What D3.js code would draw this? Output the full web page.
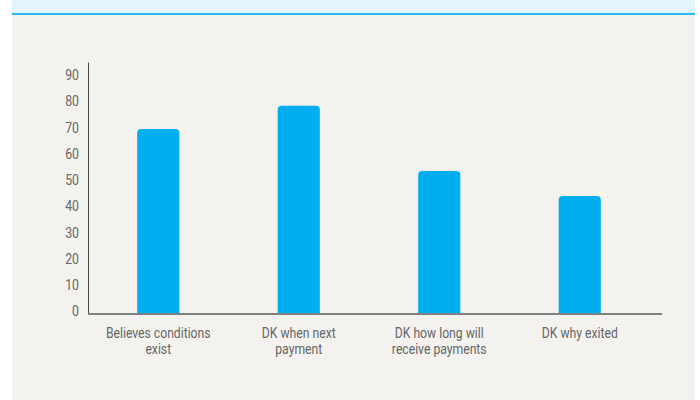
<!DOCTYPE html>
<html>
<head>
<meta charset="utf-8">
<script src="https://cdn.jsdelivr.net/npm/d3@7"></script>
<style>
  body { margin: 0; background: #ffffff; }
  svg { display: block; }
</style>
</head>
<body>
<div id="chart"></div>
<script>
// chart data
var categories = [
  ["Believes conditions", "exist"],
  ["DK when next", "payment"],
  ["DK how long will", "receive payments"],
  ["DK why exited"]
];
var values = [70.5, 79.3, 54.5, 45];
var yTicks = [0, 10, 20, 30, 40, 50, 60, 70, 80, 90];

var svgWidth = 700;
var svgHeight = 400;

var margin = { top: 62, right: 50, bottom: 86, left: 88 };
var width = svgWidth - margin.left - margin.right;
var height = svgHeight - margin.top - margin.bottom;

var svg = d3.select("#chart")
  .append("svg")
  .attr("width", svgWidth)
  .attr("height", svgHeight);

// panel background + header band
svg.append("rect")
  .attr("x", 12).attr("y", 14)
  .attr("width", 683).attr("height", 386)
  .attr("fill", "#f3f2ee");
svg.append("rect")
  .attr("x", 12).attr("y", 0)
  .attr("width", 683).attr("height", 13)
  .attr("fill", "#e3f5fc");
svg.append("rect")
  .attr("x", 12).attr("y", 13)
  .attr("width", 683).attr("height", 2)
  .attr("fill", "#2bb7ef");

var chartGroup = svg.append("g")
  .attr("transform", `translate(${margin.left}, ${margin.top})`);

var xBand = d3.scaleBand()
  .domain(d3.range(categories.length))
  .range([0, width])
  .paddingInner(0.70)
  .paddingOuter(0.35);

var yLinear = d3.scaleLinear()
  .domain([0, 96])
  .range([height, 0]);

// bars with rounded tops
var r = 4;
chartGroup.selectAll("path.bar")
  .data(values)
  .enter()
  .append("path")
  .attr("class", "bar")
  .attr("fill", "#00aeef")
  .attr("d", function(d, i) {
    var x0 = xBand(i), x1 = xBand(i) + xBand.bandwidth();
    var y0 = yLinear(d), y1 = yLinear(0);
    return `M${x0},${y1}V${y0 + r}Q${x0},${y0} ${x0 + r},${y0}H${x1 - r}Q${x1},${y0} ${x1},${y0 + r}V${y1}Z`;
  });

// y axis
var leftAxis = d3.axisLeft(yLinear)
  .tickValues(yTicks)
  .tickSize(0)
  .tickPadding(0);

var yAxis = chartGroup.append("g").call(leftAxis);
yAxis.select(".domain").attr("stroke", "#444").attr("stroke-width", 1);
yAxis.selectAll("text")
  .attr("x", 0)
  .attr("fill", "#666")
  .attr("dy", "0.13em")
  .style("font-family", "Roboto, sans-serif")
  .style("font-size", "15px")
  .attr("transform", "translate(-9,0) scale(0.82,1)");

// baseline
chartGroup.append("line")
  .attr("x1", 0).attr("x2", width + 12)
  .attr("y1", yLinear(0)).attr("y2", yLinear(0))
  .attr("stroke", "#808080")
  .attr("stroke-width", 2);

// category labels, one text per line, narrowed to mimic the condensed face
var labelGroups = chartGroup.selectAll("g.cat")
  .data(categories)
  .enter()
  .append("g")
  .attr("class", "cat")
  .attr("transform", (d, i) => `translate(${xBand(i) + xBand.bandwidth() / 2}, ${height + 24}) scale(0.87,1)`);

labelGroups.selectAll("text")
  .data(d => d)
  .enter()
  .append("text")
  .attr("x", 0)
  .attr("y", (d, i) => i * 16.5)
  .attr("text-anchor", "middle")
  .attr("fill", "#666")
  .style("font-family", "Roboto, sans-serif")
  .style("font-size", "14px")
  .text(d => d);
</script>
</body>
</html>
